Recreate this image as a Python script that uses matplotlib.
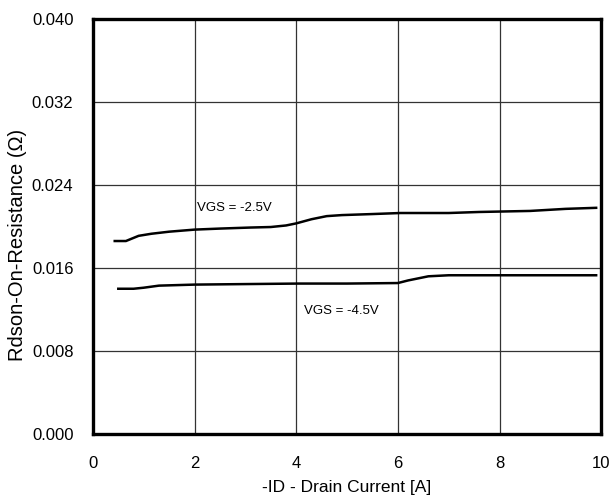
import matplotlib.pyplot as plt

plt.rcParams['font.family'] = ['Liberation Sans', 'DejaVu Sans']

# VGS = -2.5V
id_25 = [0.43, 0.65, 0.9, 1.15, 1.5, 2.0, 2.5, 3.1, 3.5, 3.8, 4.0, 4.3, 4.6, 4.9, 5.5, 6.05, 7.0, 7.6, 8.6, 9.3, 9.9]
rds_25 = [0.0186, 0.0186, 0.0191, 0.0193, 0.0195, 0.0197, 0.0198, 0.0199, 0.01995, 0.0201, 0.0203, 0.0207, 0.0210, 0.0211, 0.0212, 0.0213, 0.0213, 0.0214, 0.0215, 0.0217, 0.0218]

# VGS = -4.5V
id_45 = [0.5, 0.8, 1.0, 1.3, 2.0, 3.0, 4.05, 5.0, 6.0, 6.2, 6.6, 7.0, 8.0, 9.0, 9.9]
rds_45 = [0.0140, 0.0140, 0.0141, 0.0143, 0.0144, 0.01445, 0.0145, 0.0145, 0.01455, 0.0148, 0.0152, 0.0153, 0.0153, 0.0153, 0.0153]

xticks = [0, 2, 4, 6, 8, 10]
yticks = [0.000, 0.008, 0.016, 0.024, 0.032, 0.040]

fig = plt.figure(figsize=(6.11, 5.0), dpi=100)
ax = fig.add_axes([0.152, 0.132, 0.832, 0.830])

ax.plot(id_25, rds_25, color='black', lw=1.8)
ax.plot(id_45, rds_45, color='black', lw=1.8)

ax.text(2.05, 0.0218, 'VGS = -2.5V', fontsize=9.5, va='center')
ax.text(4.15, 0.01186, 'VGS = -4.5V', fontsize=9.5, va='center')

ax.set_xlim(0, 10)
ax.set_ylim(0, 0.040)
ax.set_xticks(xticks)
ax.set_yticks(yticks)
ax.set_xticklabels([str(x) for x in xticks])
ax.set_yticklabels(['%.3f' % y for y in yticks])
ax.tick_params(length=0, labelsize=12)
ax.tick_params(axis='y', pad=14)
ax.tick_params(axis='x', pad=16)
ax.grid(True, color='#333333', lw=0.9)

for s in ax.spines.values():
    s.set_linewidth(2.4)
    s.set_color('black')

ax.set_xlabel('-ID - Drain Current [A]', fontsize=12.5, labelpad=6)
ax.set_ylabel('Rdson-On-Resistance (Ω)', fontsize=14.5)
ax.yaxis.set_label_coords(-0.13, 0.455)

fig.savefig('out.png', dpi=100)
